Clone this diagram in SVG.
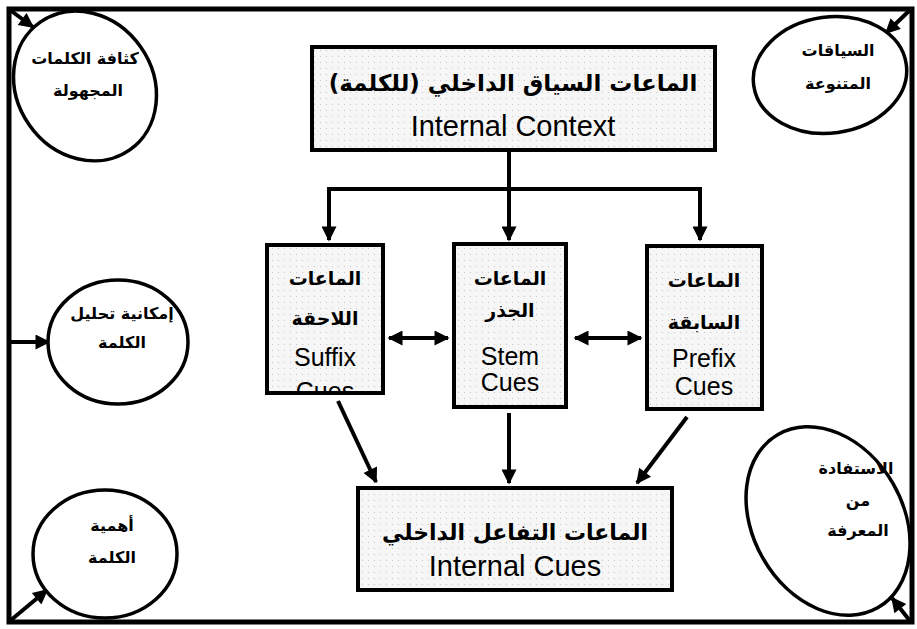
<svg xmlns="http://www.w3.org/2000/svg" width="917" height="629" viewBox="0 0 917 629">
<style>
.frame{fill:none;stroke:#000;stroke-width:5}
.oval{fill:#fff;stroke:#000;stroke-width:3.5}
.box{fill:url(#dots);stroke:#000;stroke-width:4}
.ar{font-family:"DejaVu Sans",sans-serif;font-weight:bold;text-anchor:middle;fill:#000}
.en{font-family:"Liberation Sans",Arial,sans-serif;text-anchor:middle;fill:#000}
.con{fill:none;stroke:#000;stroke-width:4}
</style>
<defs>
<pattern id="dots" width="6" height="6" patternUnits="userSpaceOnUse">
<rect width="6" height="6" fill="#f6f6f6"/>
<rect x="2" y="2" width="1" height="1" fill="#c8c8c8"/>
</pattern>
<marker id="ah" viewBox="0 0 10 10" refX="9" refY="5" markerWidth="17" markerHeight="15" markerUnits="userSpaceOnUse" orient="auto-start-reverse"><path d="M0,0 L10,5 L0,10 z" fill="#000"/></marker>
<clipPath id="clipSuffix"><rect x="267" y="245" width="116" height="146"/></clipPath>
</defs>
<rect width="917" height="629" fill="#fff"/>
<rect class="frame" x="9" y="9" width="903" height="613"/>

<g id="connectors">
<path class="con" d="M509,150 V240" marker-end="url(#ah)"/>
<path class="con" d="M329,240 V189 H700 V240" marker-start="url(#ah)" marker-end="url(#ah)"/>
<path class="con" d="M389,338 H448" marker-start="url(#ah)" marker-end="url(#ah)"/>
<path class="con" d="M575,338 H641" marker-start="url(#ah)" marker-end="url(#ah)"/>
<path class="con" d="M338,401 L376,482" marker-end="url(#ah)"/>
<path class="con" d="M509,413 V483" marker-end="url(#ah)"/>
<path class="con" d="M687,417 L637,483" marker-end="url(#ah)"/>
<path class="con" d="M10,10 L33,27" marker-end="url(#ah)"/>
<path class="con" d="M910,10 L886,33" marker-end="url(#ah)"/>
<path class="con" d="M10,342 H49" marker-end="url(#ah)"/>
<path class="con" d="M11,620 L47,590" marker-end="url(#ah)"/>
<path class="con" d="M910,621 L892,598" marker-end="url(#ah)"/>
</g>

<g id="n-density">
<ellipse class="oval" cx="85" cy="86" rx="68" ry="78" transform="rotate(-35 85 86)"/>
<text class="ar" x="85" y="64" font-size="16">كثافة الكلمات</text>
<text class="ar" x="88" y="96" font-size="16">المجهولة</text>
</g>

<g id="n-contexts">
<ellipse class="oval" cx="830" cy="75" rx="77" ry="58" transform="rotate(-8 830 75)"/>
<text class="ar" x="838" y="56" font-size="16">السياقات</text>
<text class="ar" x="838" y="89" font-size="16">المتنوعة</text>
</g>

<g id="n-analysis">
<ellipse class="oval" cx="118" cy="342" rx="70" ry="62"/>
<text class="ar" x="122" y="319" font-size="16">إمكانية تحليل</text>
<text class="ar" x="122" y="348" font-size="16">الكلمة</text>
</g>

<g id="n-importance">
<ellipse class="oval" cx="105" cy="554" rx="72" ry="64"/>
<text class="ar" x="112" y="531" font-size="16">أهمية</text>
<text class="ar" x="112" y="563" font-size="16">الكلمة</text>
</g>

<g id="n-knowledge">
<ellipse class="oval" cx="828" cy="521" rx="75" ry="100" transform="rotate(-30 828 521)"/>
<text class="ar" x="856" y="474" font-size="16">الاستفادة</text>
<text class="ar" x="858" y="506" font-size="16">من</text>
<text class="ar" x="858" y="536" font-size="16">المعرفة</text>
</g>

<g id="n-context">
<rect class="box" x="312" y="47" width="403" height="103"/>
<text class="ar" x="513" y="91" font-size="23">الماعات السياق الداخلي (للكلمة)</text>
<text class="en" x="513" y="136" font-size="29">Internal Context</text>
</g>

<g id="n-suffix">
<rect class="box" x="267" y="245" width="116" height="148"/>
<text class="ar" x="325" y="285" font-size="19">الماعات</text>
<text class="ar" x="325" y="325" font-size="19">اللاحقة</text>
<text class="en" x="325" y="366" font-size="25">Suffix</text>
<text class="en" x="325" y="400" font-size="25" clip-path="url(#clipSuffix)">Cues</text>
</g>

<g id="n-stem">
<rect class="box" x="454" y="244" width="112" height="163"/>
<text class="ar" x="510" y="285" font-size="19">الماعات</text>
<text class="ar" x="510" y="317" font-size="19">الجذر</text>
<text class="en" x="510" y="365" font-size="25">Stem</text>
<text class="en" x="510" y="391" font-size="25">Cues</text>
</g>

<g id="n-prefix">
<rect class="box" x="647" y="246" width="115" height="163"/>
<text class="ar" x="704" y="287" font-size="19">الماعات</text>
<text class="ar" x="704" y="329" font-size="19">السابقة</text>
<text class="en" x="704" y="367" font-size="25">Prefix</text>
<text class="en" x="704" y="395" font-size="25">Cues</text>
</g>

<g id="n-internal">
<rect class="box" x="358" y="488" width="314" height="102"/>
<text class="ar" x="515" y="540" font-size="22">الماعات التفاعل الداخلي</text>
<text class="en" x="515" y="576" font-size="29">Internal Cues</text>
</g>
</svg>
